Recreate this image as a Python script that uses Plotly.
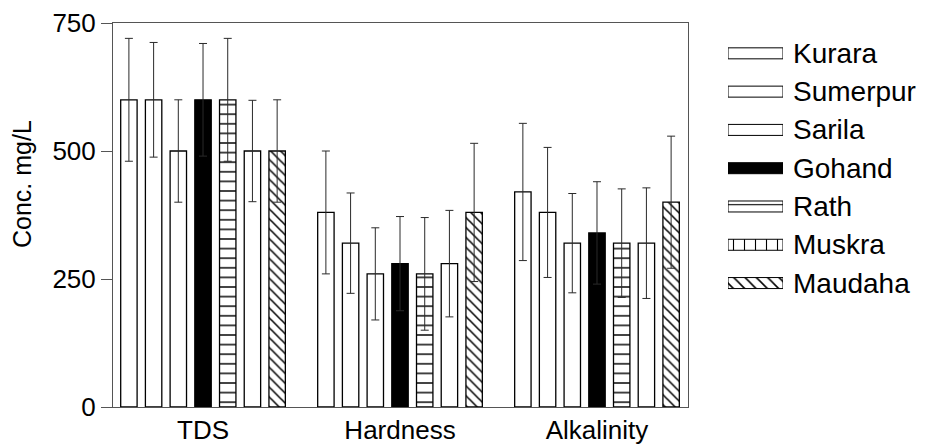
import plotly.graph_objects as go

# ---------------- data ----------------
categories = ["TDS", "Hardness", "Alkalinity"]
sites = ["Kurara", "Sumerpur", "Sarila", "Gohand", "Rath", "Muskra", "Maudaha"]

kurara = [600, 380, 420]
kurara_err = [120, 120, 134]
sumerpur = [600, 320, 380]
sumerpur_err = [112, 98, 127]
sarila = [500, 260, 320]
sarila_err = [100, 90, 97]
gohand = [600, 280, 340]
gohand_err = [110, 92, 100]
rath = [600, 260, 320]
rath_err = [120, 110, 106]
muskra = [500, 280, 320]
muskra_err = [99, 104, 108]
maudaha = [500, 380, 400]
maudaha_err = [100, 135, 129]

y_ticks = [0, 250, 500, 750]

values = [kurara, sumerpur, sarila, gohand, rath, muskra, maudaha]
errors = [kurara_err, sumerpur_err, sarila_err, gohand_err, rath_err, muskra_err, maudaha_err]

# ---------------- styles ----------------
# page body has an 8px margin, so the figure is drawn 8px smaller
W, H = 925, 438
FONT = "Liberation Sans, Arial, sans-serif"
AX = "#555555"

bar_styles = {
    "Kurara":   dict(color="white", shape=None),
    "Sumerpur": dict(color="white", shape=None),
    "Sarila":   dict(color="white", shape=None),
    "Gohand":   dict(color="black", shape=None),
    "Rath":     dict(color="white", shape="-", size=9.6, sol=0.15),
    "Muskra":   dict(color="white", shape=None),
    "Maudaha":  dict(color="white", shape="\\", size=7, sol=0.22),
}
legend_styles = {
    "Kurara":   dict(color="white", shape=None),
    "Sumerpur": dict(color="white", shape=None),
    "Sarila":   dict(color="white", shape=None),
    "Gohand":   dict(color="black", shape=None),
    "Rath":     dict(color="white", shape="-", size=11, sol=0.1),
    "Muskra":   dict(color="white", shape="|", size=11, sol=0.1),
    "Maudaha":  dict(color="white", shape="\\", size=8, sol=0.2),
}


def make_marker(st, lw):
    m = dict(color=st["color"], line=dict(color="black", width=lw))
    if st["shape"]:
        m["pattern"] = dict(shape=st["shape"], size=st["size"], solidity=st["sol"],
                            fgcolor="black", bgcolor=st["color"], fillmode="replace")
    return m


fig = go.Figure()

for name, vals, errs in zip(sites, values, errors):
    st = bar_styles[name]
    fig.add_trace(go.Bar(
        x=categories, y=vals, name=name, showlegend=False,
        marker=make_marker(st, 1.3),
        error_y=dict(type="data", array=errs, symmetric=True,
                     color="#2a2a2a", thickness=1, width=4),
        xaxis="x", yaxis="y",
    ))

# legend swatches drawn on a hidden helper axis (one unit per entry)
HALF = 0.5 * 11 / 38.3
for i, s in enumerate(sites):
    st = legend_styles[s]
    kw = {}
    if st["shape"]:
        kw["fillpattern"] = dict(shape=st["shape"], size=st["size"], solidity=st["sol"],
                                 fgcolor="black", bgcolor=st["color"], fillmode="replace")
    fig.add_trace(go.Scatter(
        x=[0, 1, 1, 0, 0], y=[i - HALF, i - HALF, i + HALF, i + HALF, i - HALF],
        mode="lines", fill="toself", fillcolor=st["color"],
        line=dict(color="black", width=1.0),
        showlegend=False, hoverinfo="skip",
        xaxis="x2", yaxis="y2", **kw,
    ))
    fig.add_annotation(x=1, y=i, xref="x2", yref="y2", text=s, showarrow=False,
                       xanchor="left", yanchor="middle", xshift=8,
                       font=dict(family=FONT, size=28, color="black"))

fig.add_annotation(x=14 / W, y=(H - 176) / H, xref="paper", yref="paper",
                   text="Conc. mg/L", textangle=-90, showarrow=False,
                   xanchor="center", yanchor="middle",
                   font=dict(family=FONT, size=25, color="black"))

hidden = dict(visible=False, showgrid=False, zeroline=False, showline=False,
              showticklabels=False, ticks="", fixedrange=True)

fig.update_layout(
    template="none",
    width=W, height=H,
    margin=dict(l=0, r=0, t=0, b=0),
    paper_bgcolor="white", plot_bgcolor="white",
    barmode="group", bargap=0.122, bargroupgap=0.336,
    font=dict(family=FONT, size=26, color="black"),
    xaxis=dict(
        domain=[105 / W, 680 / W], type="category", categoryorder="array",
        categoryarray=categories, range=[-0.457, 2.462],
        showline=True, linecolor=AX, linewidth=1, mirror=True,
        ticks="", showgrid=False, zeroline=False, automargin=False,
        tickfont=dict(family=FONT, size=26, color="black"),
    ),
    yaxis=dict(
        domain=[39 / H, 423 / H], range=[0, 750], tickvals=y_ticks,
        showline=True, linecolor=AX, linewidth=1, mirror=True,
        ticks="outside", ticklen=11, tickcolor=AX, tickwidth=1,
        showgrid=False, zeroline=False, automargin=False,
        tickfont=dict(family=FONT, size=26, color="black"),
    ),
    xaxis2=dict(domain=[720 / W, 775 / W], range=[0, 1], anchor="y2", **hidden),
    yaxis2=dict(domain=[(H - 294.2) / H, (H - 26.2) / H], anchor="x2",
                range=[len(sites) - 0.5, -0.5], **hidden),
)

fig.write_html("out.html")
